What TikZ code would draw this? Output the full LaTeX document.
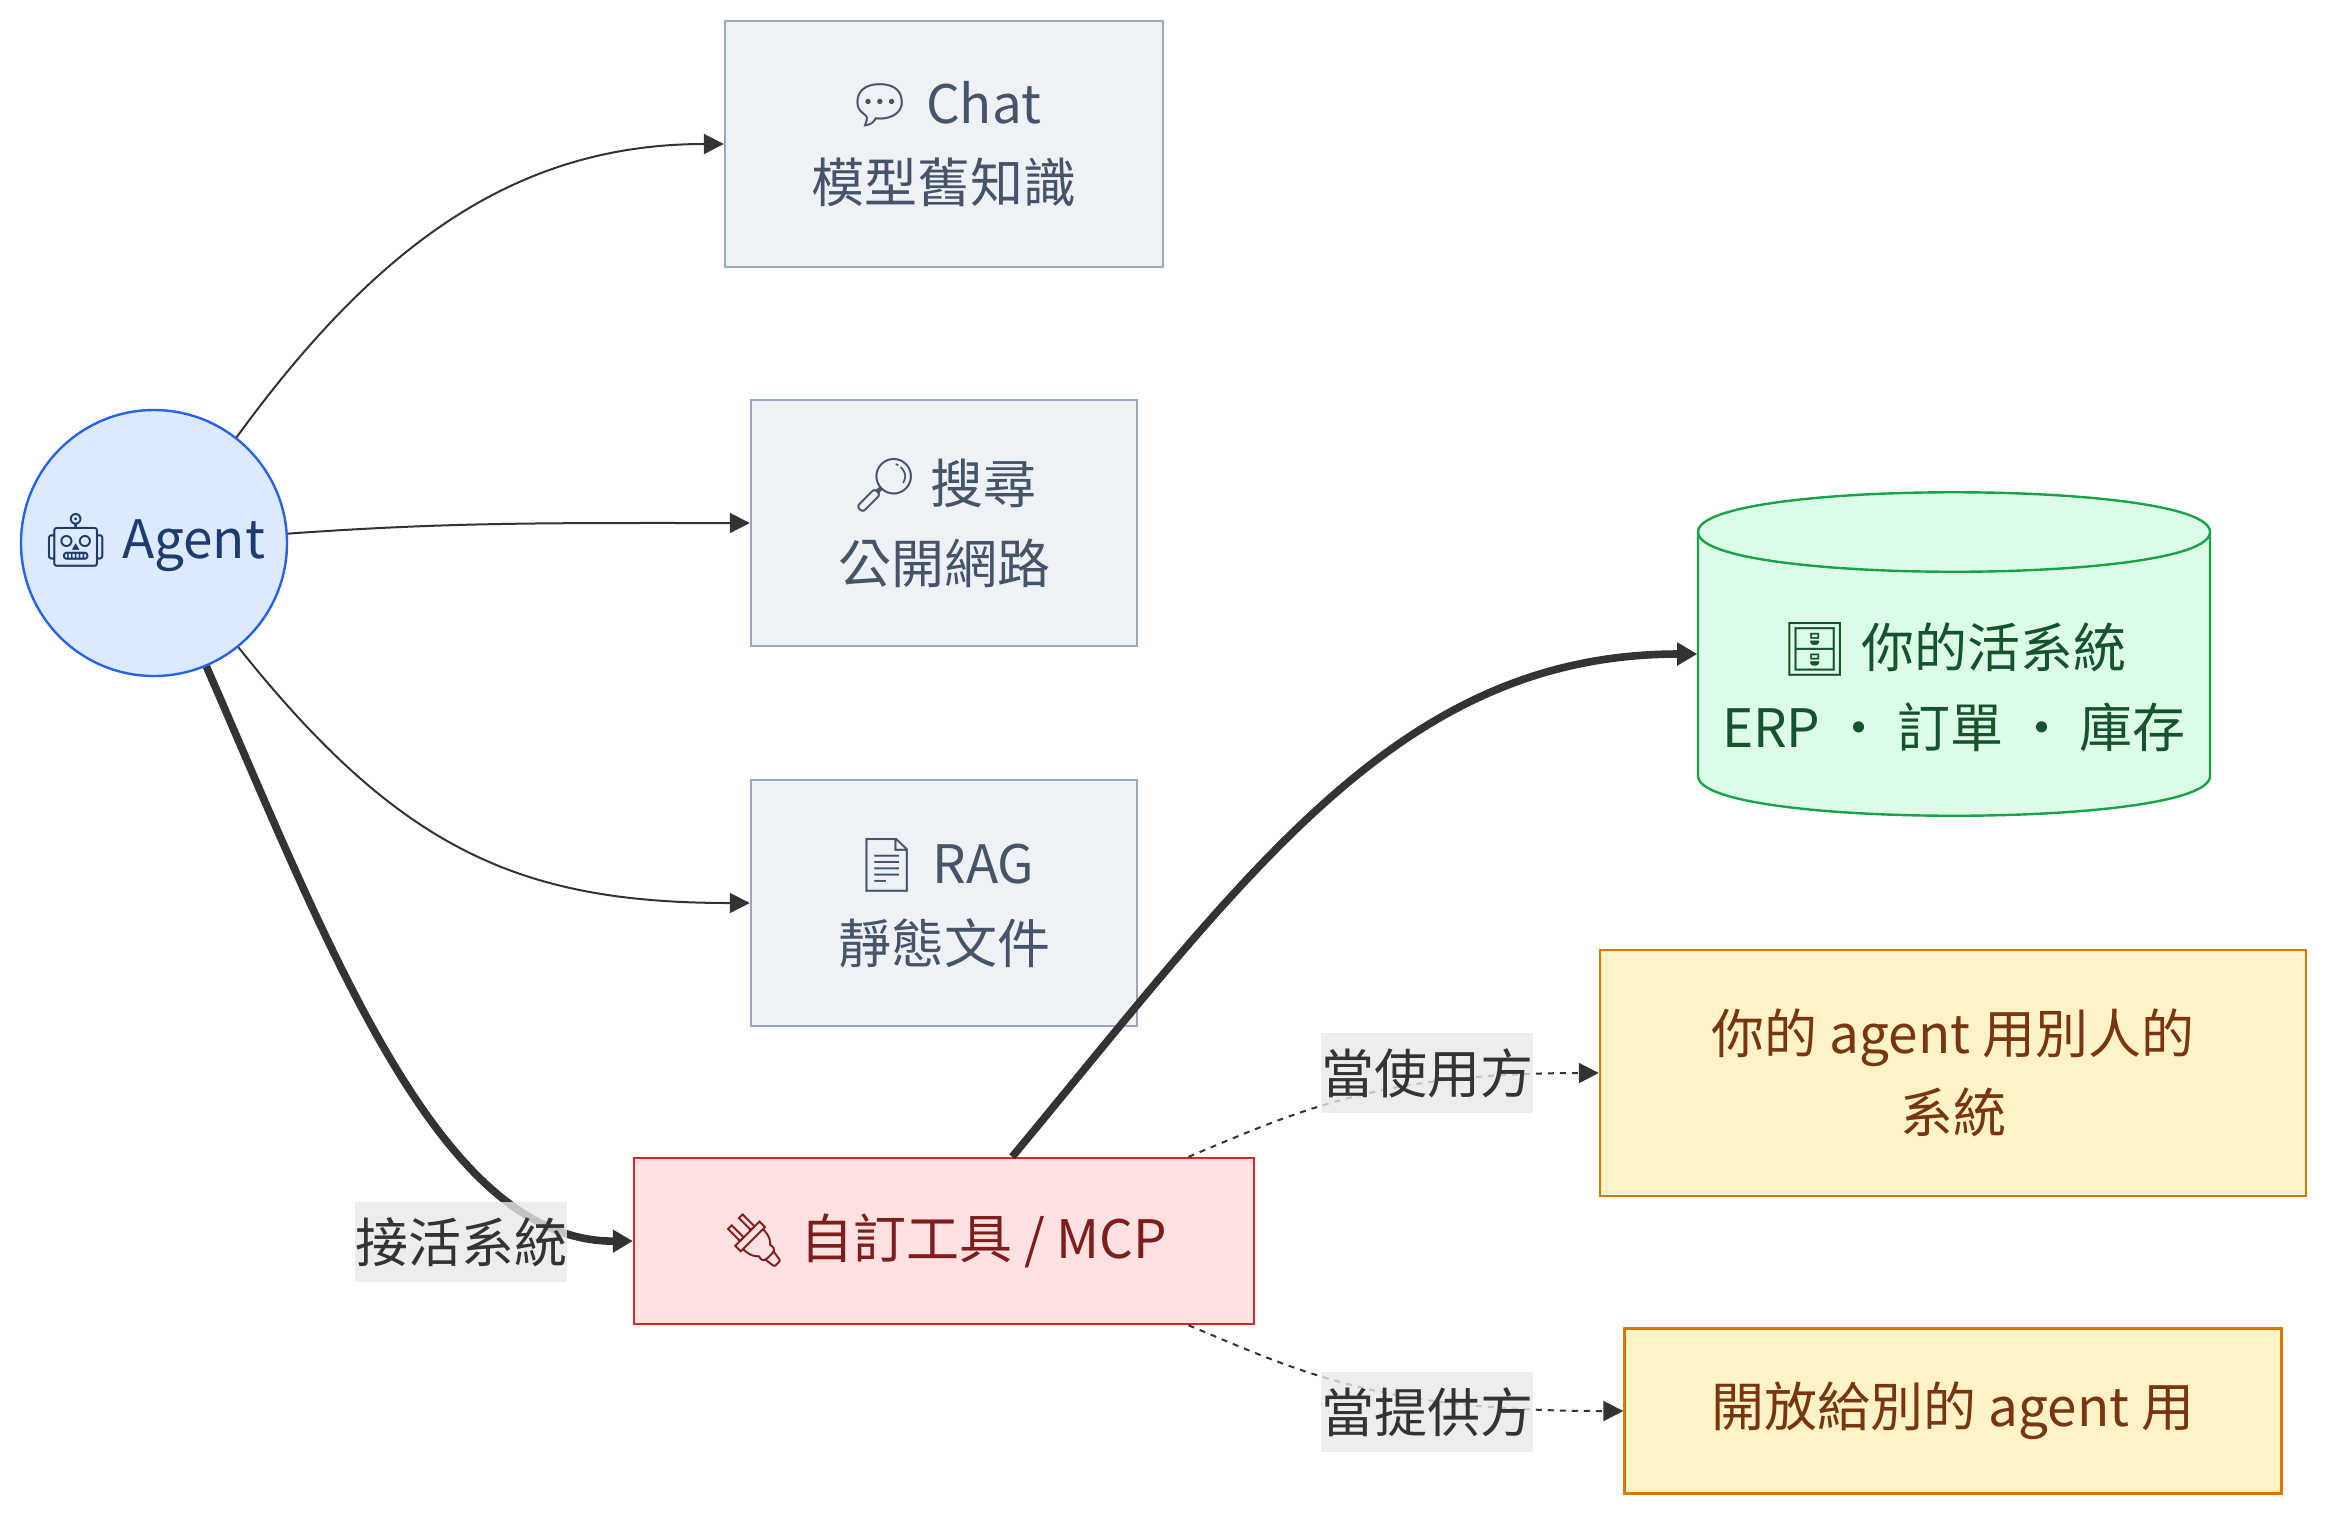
\documentclass[tikz,border=0pt]{standalone}
\usepackage{fontspec}
\setmainfont{Noto Sans CJK TC}
\newfontfamily\emojifont{Noto Emoji}
\usepackage{tikz}
\usetikzlibrary{arrows.meta}

\definecolor{edgecol}{HTML}{333333}
\definecolor{lblfill}{HTML}{E8E8E8}
\definecolor{agentfill}{HTML}{DBEAFE}
\definecolor{agentline}{HTML}{2563EB}
\definecolor{agenttext}{HTML}{1E3A6E}
\definecolor{grayfill}{HTML}{EEF2F7}
\definecolor{grayline}{HTML}{98A6BE}
\definecolor{graytext}{HTML}{46546A}
\definecolor{sysfill}{HTML}{DCFCE7}
\definecolor{sysline}{HTML}{16A34A}
\definecolor{systext}{HTML}{14532D}
\definecolor{mcpfill}{HTML}{FEE2E2}
\definecolor{mcpline}{HTML}{DC2626}
\definecolor{mcptext}{HTML}{7F1D1D}
\definecolor{yelfill}{HTML}{FEF3C7}
\definecolor{yelline}{HTML}{D97706}
\definecolor{yeltext}{HTML}{78350F}

\tikzset{
  txt/.style={font=\fontsize{13.25}{19.9}\selectfont, align=center, inner sep=0pt},
  agentnode/.style={txt, circle, draw=agentline, fill=agentfill, text=agenttext, line width=0.6pt, minimum size=66.5pt},
  graybox/.style={txt, draw=grayline, fill=grayfill, text=graytext, line width=0.6pt, minimum height=61.5pt},
  mcpbox/.style={txt, draw=mcpline, fill=mcpfill, text=mcptext, line width=0.6pt, minimum width=155pt, minimum height=41.5pt},
  yelbox/.style={txt, draw=yelline, fill=yelfill, text=yeltext, line width=0.6pt},
  lbl/.style={txt, fill=lblfill, fill opacity=0.8, text opacity=1, text=edgecol, minimum height=20pt},
  thinedge/.style={draw=edgecol, line width=0.5pt, -{Triangle[length=5pt,width=5pt]}},
  thickedge/.style={draw=edgecol, line width=1.9pt, -{Triangle[length=5pt,width=5.5pt]}},
  dotedge/.style={draw=edgecol, line width=0.5pt, dash pattern=on 1.5pt off 1.5pt, -{Triangle[length=5pt,width=5pt]}}
}

\begin{document}
\begin{tikzpicture}[x=0.25pt,y=-0.25pt]
\useasboundingbox (0,0) rectangle (2352,1533);

\filldraw[fill=sysfill, draw=sysline, line width=0.6pt] (1698,532) -- (1698,776) .. controls (1698,829) and (2210,829) .. (2210,776) -- (2210,532) .. controls (2210,479) and (1698,479) .. (1698,532) -- cycle;
\draw[sysline, line width=0.6pt] (1698,532) .. controls (1698,585) and (2210,585) .. (2210,532);

\node[agentnode] (agent) at (154,543) {{\emojifont 🤖} Agent};
\node[graybox, minimum width=109.5pt] (chat) at (944,144) {{\emojifont 💬} Chat\\模型舊知識};
\node[graybox, minimum width=96.5pt] (search) at (944,523) {{\emojifont 🔎} 搜尋\\公開網路};
\node[graybox, minimum width=96.5pt] (rag) at (944,903) {{\emojifont 📄} RAG\\靜態文件};
\node[mcpbox] (mcp) at (944,1241) {{\emojifont 🔌} 自訂工具 / MCP};
\node[minimum width=128pt, minimum height=81pt] (sys) at (1954,654) {};
\node[txt, text=systext] (systext) at (1954,687) {{\emojifont 🗄} 你的活系統\\ERP ・ 訂單 ・ 庫存};
\node[yelbox, minimum width=176.5pt, minimum height=61.5pt] (user) at (1953,1073) {你的 agent 用別人的\\系統};
\node[yelbox, minimum width=164.25pt, minimum height=41.25pt] (provider) at (1953,1411) {開放給別的 agent 用};

\draw[thinedge] (agent.52) .. controls (380,240) and (520,144) .. (chat.west);
\draw[thinedge] (agent.4) .. controls (450,522) and (550,523) .. (search.west);
\draw[thinedge] (agent.-51) .. controls (400,850) and (520,903) .. (rag.west);
\draw[thickedge] (agent.-67) .. controls (330,950) and (440,1242) .. (mcp.west);
\draw[thickedge] (mcp.51) .. controls (1250,870) and (1400,654) .. (sys.west);
\draw[dotedge] (mcp.19) .. controls (1300,1110) and (1380,1073) .. (user.west);
\draw[dotedge] (mcp.-19) .. controls (1300,1372) and (1380,1411) .. (provider.west);

\node[lbl] (take) at (461,1242) {接活系統};
\node[lbl] (asuser) at (1427,1073) {當使用方};
\node[lbl] (asprov) at (1427,1412) {當提供方};
\end{tikzpicture}
\end{document}
